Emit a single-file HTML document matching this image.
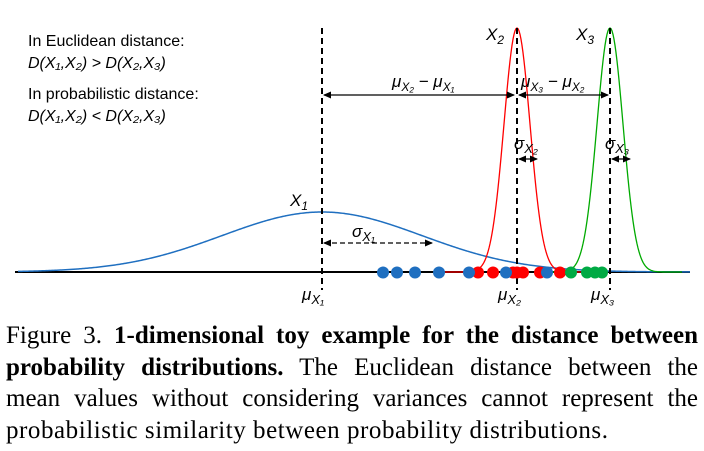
<!DOCTYPE html>
<html><head><meta charset="utf-8"><style>
body{margin:0;background:#fff;width:704px;height:451px;overflow:hidden}
.cap{position:absolute;left:6px;top:320px;width:692px;font-family:"Liberation Serif",serif;font-size:25px;line-height:31.5px;color:#000}
.cap div{text-align:justify;text-align-last:justify;white-space:nowrap}
.cap div.l{text-align-last:left;letter-spacing:0.55px}
</style></head><body>
<svg width="704" height="320" style="position:absolute;left:0;top:0" font-family="Liberation Sans, sans-serif">
<defs><marker id="a" markerUnits="userSpaceOnUse" markerWidth="8" markerHeight="8" refX="7" refY="4" orient="auto-start-reverse"><path d="M0,0.5L8,4L0,7.5z" fill="#000"/></marker></defs>
<line x1="15" y1="272" x2="690" y2="272" stroke="#000" stroke-width="2"/>
<path id="b" fill="none" stroke="#1f6fc0" stroke-width="1.5"/>
<path id="r" fill="none" stroke="#f00" stroke-width="1.3"/>
<path id="g" fill="none" stroke="#0a0" stroke-width="1.3"/>
<g stroke="#000" stroke-width="2" stroke-dasharray="6,4">
<line x1="322" y1="28" x2="322" y2="290"/><line x1="517" y1="28" x2="517" y2="290"/><line x1="610" y1="28" x2="610" y2="290"/></g>
<line x1="324" y1="95" x2="514" y2="95" stroke="#000" stroke-width="1.3" marker-start="url(#a)" marker-end="url(#a)"/>
<line x1="519" y1="95" x2="608" y2="95" stroke="#000" stroke-width="1.3" marker-start="url(#a)" marker-end="url(#a)"/>
<line x1="324" y1="243" x2="432" y2="243" stroke="#000" stroke-width="1.3" stroke-dasharray="5,3" marker-start="url(#a)" marker-end="url(#a)"/>
<line x1="519" y1="159" x2="537" y2="159" stroke="#000" stroke-width="1.3" marker-start="url(#a)" marker-end="url(#a)"/>
<line x1="612" y1="159" x2="630" y2="159" stroke="#000" stroke-width="1.3" marker-start="url(#a)" marker-end="url(#a)"/>
<g id="dots"></g>
<g font-size="16" fill="#000">
<text x="28" y="46">In Euclidean distance:</text>
<text x="28" y="68" font-style="italic">D(X₁,X₂) &gt; D(X₂,X₃)</text>
<text x="28" y="99">In probabilistic distance:</text>
<text x="28" y="121" font-style="italic">D(X₁,X₂) &lt; D(X₂,X₃)</text>
<g font-style="italic" font-size="17">
<text x="290" y="206">X<tspan font-size="12" dy="4">1</tspan></text>
<text x="486" y="40">X<tspan font-size="12" dy="4">2</tspan></text>
<text x="576" y="40">X<tspan font-size="12" dy="4">3</tspan></text>
<text x="392" y="87">μ<tspan font-size="12" dy="4">X₂</tspan><tspan dy="-4"> − μ</tspan><tspan font-size="12" dy="4">X₁</tspan></text>
<text x="521" y="87">μ<tspan font-size="12" dy="4">X₃</tspan><tspan dy="-4"> − μ</tspan><tspan font-size="12" dy="4">X₂</tspan></text>
<text x="352" y="237">σ<tspan font-size="13" dy="4">X₁</tspan></text>
<text x="514" y="149">σ<tspan font-size="13" dy="4">X₂</tspan></text>
<text x="605" y="149">σ<tspan font-size="13" dy="4">X₃</tspan></text>
<text x="302" y="300">μ<tspan font-size="13" dy="4">X₁</tspan></text>
<text x="498" y="300">μ<tspan font-size="13" dy="4">X₂</tspan></text>
<text x="591" y="300">μ<tspan font-size="13" dy="4">X₃</tspan></text>
</g></g>
</svg>
<script>
function g(m,s,h,x0,x1){let d="";for(let x=x0;x<=x1;x+=1){let y=272-h*Math.exp(-((x-m)**2)/(2*s*s));d+=(x==x0?"M":"L")+x+","+y.toFixed(2);}return d;}
document.getElementById("b").setAttribute("d",g(322,100,60,18,690));
document.getElementById("r").setAttribute("d",g(517,13,244,440,600));
document.getElementById("g").setAttribute("d",g(610,13,244,540,682));
let D=[[383,"#1f6fc0"],[397,"#1f6fc0"],[415,"#1f6fc0"],[439,"#1f6fc0"],[478,"#f00"],[493,"#f00"],[517,"#f00"],[523,"#f00"],[513,"#f00"],[540,"#f00"],[560,"#f00"],[469,"#1f6fc0"],[506,"#1f6fc0"],[547,"#1f6fc0"],[571,"#0a4"],[587,"#0a4"],[595,"#0a4"],[602,"#0a4"]];
let h="";D.forEach(p=>h+=`<circle cx="${p[0]}" cy="272.5" r="6" fill="${p[1]}"/>`);
document.getElementById("dots").innerHTML=h;
</script>
<div class="cap">
<div>Figure 3. <b>1-dimensional toy example for the distance between</b></div>
<div><b>probability distributions.</b> The Euclidean distance between the</div>
<div>mean values without considering variances cannot represent the</div>
<div class="l">probabilistic similarity between probability distributions.</div>
</div>
</body></html>
